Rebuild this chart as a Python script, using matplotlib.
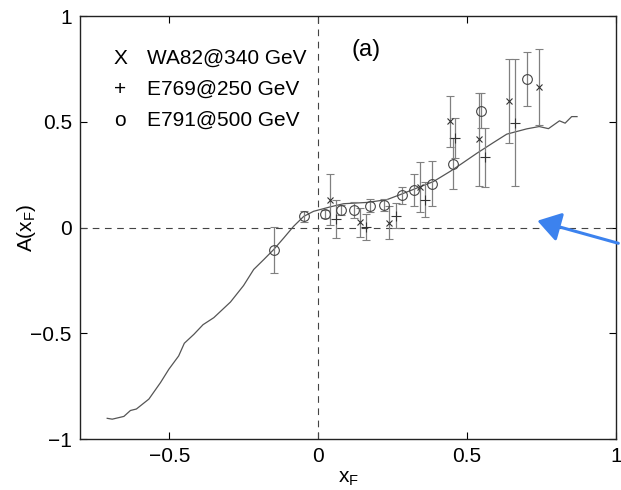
import numpy as np
import matplotlib
matplotlib.use("Agg")
import matplotlib.pyplot as plt

plt.rcParams['font.family'] = ['Liberation Sans', 'DejaVu Sans']
plt.rcParams['mathtext.default'] = 'regular'

# model curve
curve_x = [-0.709, -0.692, -0.653, -0.631, -0.611, -0.569, -0.530, -0.502, -0.469, -0.450,
           -0.418, -0.387, -0.351, -0.295, -0.251, -0.217, -0.183, -0.150, -0.116, -0.083,
           -0.049, -0.016, 0.04, 0.085, 0.163, 0.23, 0.275, 0.331, 0.387, 0.443,
           0.477, 0.533, 0.588, 0.633, 0.70, 0.742, 0.773, 0.81, 0.829, 0.851, 0.869]
curve_y = [-0.902, -0.906, -0.893, -0.865, -0.858, -0.811, -0.733, -0.670, -0.607, -0.547,
           -0.505, -0.459, -0.426, -0.352, -0.274, -0.198, -0.151, -0.104, -0.049, 0.006,
           0.053, 0.077, 0.098, 0.113, 0.119, 0.132, 0.156, 0.187, 0.218, 0.266,
           0.298, 0.352, 0.402, 0.442, 0.467, 0.478, 0.468, 0.505, 0.494, 0.525, 0.525]

# WA82 @ 340 GeV
wa82_x = [0.040, 0.141, 0.239, 0.340, 0.441, 0.541, 0.642, 0.742]
wa82_y = [0.132, 0.025, 0.022, 0.192, 0.503, 0.418, 0.599, 0.667]
wa82_e = [0.120, 0.070, 0.078, 0.120, 0.120, 0.220, 0.200, 0.180]

# E769 @ 250 GeV
e769_x = [0.060, 0.161, 0.262, 0.360, 0.460, 0.560, 0.661]
e769_y = [0.040, 0.002, 0.057, 0.132, 0.423, 0.333, 0.497]
e769_e = [0.090, 0.060, 0.059, 0.084, 0.095, 0.140, 0.300]

# E791 @ 500 GeV
e791_x = [-0.150, -0.049, 0.021, 0.076, 0.121, 0.172, 0.221, 0.282, 0.320, 0.383, 0.451, 0.546, 0.702]
e791_y = [-0.107, 0.053, 0.064, 0.083, 0.085, 0.104, 0.107, 0.152, 0.179, 0.208, 0.303, 0.553, 0.703]
e791_e = [0.110, 0.025, 0.018, 0.022, 0.038, 0.030, 0.028, 0.038, 0.075, 0.107, 0.120, 0.083, 0.128]

legend_lines = [("X", "WA82@340 GeV"), ("+", "E769@250 GeV"), ("o", "E791@500 GeV")]

fig = plt.figure(figsize=(6.21, 4.90), dpi=100)
ax = fig.add_axes([0.129, 0.104, 0.863, 0.863])

ax.axhline(0, color='#444444', lw=0.8, ls=(0, (6, 5)))
ax.axvline(0, color='#444444', lw=0.8, ls=(0, (6, 5)))

ax.plot(curve_x, curve_y, color='#555555', lw=0.9)

ebar = dict(ecolor='#808080', elinewidth=0.9, capsize=3, capthick=0.9, ls='none')
ax.errorbar(wa82_x, wa82_y, yerr=wa82_e, fmt='x', ms=4, mec='#333333', mew=0.8, **ebar)
ax.errorbar(e769_x, e769_y, yerr=e769_e, fmt='+', ms=7, mec='#333333', mew=0.8, **ebar)
ax.errorbar(e791_x, e791_y, yerr=e791_e, fmt='o', ms=7, mfc='none', mec='#444444', mew=0.8, **ebar)

ax.set_xlim(-0.8, 1)
ax.set_ylim(-1, 1)
ax.set_xticks([-0.5, 0, 0.5, 1])
ax.set_xticklabels(['\u22120.5', '0', '0.5', '1'])
ax.set_yticks([-1, -0.5, 0, 0.5, 1])
ax.set_yticklabels(['\u22121', '\u22120.5', '0', '0.5', '1'])
ax.tick_params(direction='in', length=5, width=0.8, top=True, right=True, labelsize=15, pad=6)
for s in ax.spines.values():
    s.set_linewidth(1.0)
    s.set_color('#222222')

ax.set_xlabel('x$_F$', fontsize=15, labelpad=2)
ax.set_ylabel('A(x$_F$)', fontsize=15)
ax.yaxis.set_label_coords(-0.078, 0.5)

for i, (sym, lab) in enumerate(legend_lines):
    yy = 0.80 - i * 0.147
    ax.text(-0.665, yy, sym, fontsize=15, ha='center', va='center')
    ax.text(-0.575, yy, lab, fontsize=15, ha='left', va='center')

ax.text(0.11, 0.84, '(a)', fontsize=17, ha='left', va='center')

fig.patches.append(matplotlib.patches.FancyArrowPatch(
    (1.0, 0.502), (0.861, 0.551), transform=fig.transFigure,
    arrowstyle='-|>,head_length=7,head_width=4.5', color='#3c82ee', lw=2.2,
    mutation_scale=2))

fig.savefig('out.png', dpi=100)
